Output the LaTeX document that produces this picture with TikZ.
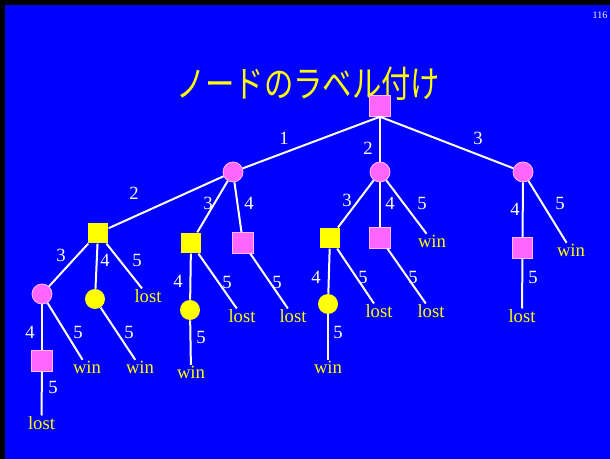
\documentclass[tikz,border=0pt]{standalone}
\usepackage{fontspec}
\setmainfont{Liberation Serif}
\newfontfamily\cjk{Noto Sans CJK JP}
\definecolor{bgblue}{HTML}{0000FF}
\definecolor{npink}{HTML}{FF66FF}
\definecolor{nyellow}{HTML}{FFFF00}
\begin{document}
\begin{tikzpicture}[x=0.75pt,y=-0.75pt,
  psq/.style={rectangle,fill=npink,draw=white!55!npink,line width=0.6pt,minimum size=15.5pt,inner sep=0pt},
  ysq/.style={rectangle,fill=nyellow,minimum size=15.5pt,inner sep=0pt},
  pci/.style={circle,fill=npink,draw=white!55!npink,line width=0.6pt,minimum size=15pt,inner sep=0pt},
  yci/.style={circle,fill=nyellow,minimum size=15pt,inner sep=0pt},
  leaf/.style={text=nyellow,font=\fontsize{14}{16}\selectfont,inner sep=0.5pt},
  lbl/.style={text=white,font=\fontsize{14}{16}\selectfont,inner sep=0pt},
  edge/.style={draw=white,line width=1.5pt}]
\fill[black] (0,0) rectangle (610,459);
\fill[bgblue] (5,5) rectangle (610,459);
\useasboundingbox (0,0) rectangle (610,459);

% title and page number
\node[text=nyellow,font=\cjk\fontsize{27.5}{30}\selectfont,inner sep=0pt] (title) at (308,84) {\scalebox{0.8}[1]{ノードのラベル付け}};
\node[text=white,font=\fontsize{7.5}{8}\selectfont,inner sep=0pt] (pg) at (600,15) {116};

% tree nodes
\node[psq] (root) at (380,106) {};
\node[pci] (A) at (233,172) {};
\node[pci] (B) at (380,172) {};
\node[pci] (C) at (523,172) {};
\node[ysq] (D) at (98,233) {};
\node[ysq] (E) at (191,243) {};
\node[psq] (F) at (243,243) {};
\node[ysq] (G) at (330,238) {};
\node[psq] (H) at (380,238) {};
\node[leaf] (wB) at (432,241) {win};
\node[psq] (I) at (522.5,248) {};
\node[leaf] (wC) at (571,250) {win};
\node[pci] (J) at (42,294) {};
\node[yci] (K) at (95,299) {};
\node[leaf] (lD) at (148,296) {lost};
\node[yci] (L) at (190,310) {};
\node[leaf] (lE) at (242,316) {lost};
\node[leaf] (lF) at (293,316) {lost};
\node[yci] (M) at (328,304) {};
\node[leaf] (lG) at (379,311) {lost};
\node[leaf] (lH) at (431,311) {lost};
\node[leaf] (lI) at (522,316) {lost};
\node[psq] (N) at (42,361) {};
\node[leaf] (wJ) at (87,367) {win};
\node[leaf] (wK) at (140,367) {win};
\node[leaf] (wL) at (191,372) {win};
\node[leaf] (wM) at (328,367) {win};
\node[leaf] (lN) at (41.5,423) {lost};

% connectors
\draw[edge] (root.south) -- (A);
\draw[edge] (root.south) -- (B);
\draw[edge] (root.south) -- (C);
\draw[edge] (A) -- (D);
\draw[edge] (A) -- (E);
\draw[edge] (A) -- (F);
\draw[edge] (B) -- (G);
\draw[edge] (B) -- (H);
\draw[edge] (B) -- (wB);
\draw[edge] (C) -- (I);
\draw[edge] (C) -- (wC);
\draw[edge] (D) -- (J);
\draw[edge] (D) -- (K);
\draw[edge] (D) -- (lD);
\draw[edge] (E) -- (L);
\draw[edge] (E) -- (lE);
\draw[edge] (F) -- (lF);
\draw[edge] (G) -- (M);
\draw[edge] (G) -- (lG);
\draw[edge] (H) -- (lH);
\draw[edge] (I) -- (lI);
\draw[edge] (J) -- (N);
\draw[edge] (J) -- (wJ);
\draw[edge] (K) -- (wK);
\draw[edge] (L) -- (wL);
\draw[edge] (M) -- (wM);
\draw[edge] (N) -- (lN);

% edge labels
\node[lbl] (r1) at (284,138) {1};
\node[lbl] (r2) at (368,148) {2};
\node[lbl] (r3) at (478,138) {3};
\node[lbl] (a2) at (134,193) {2};
\node[lbl] (a3) at (208,203) {3};
\node[lbl] (a4) at (249,203) {4};
\node[lbl] (b3) at (347,200) {3};
\node[lbl] (b4) at (390,203) {4};
\node[lbl] (b5) at (422,203) {5};
\node[lbl] (c4) at (515,209) {4};
\node[lbl] (c5) at (560,203) {5};
\node[lbl] (d3) at (61,255) {3};
\node[lbl] (d4) at (105,260) {4};
\node[lbl] (d5) at (137,260) {5};
\node[lbl] (e4) at (178,281) {4};
\node[lbl] (e5) at (227,282) {5};
\node[lbl] (f5) at (277,282) {5};
\node[lbl] (g4) at (316,277) {4};
\node[lbl] (g5) at (363,277) {5};
\node[lbl] (h5) at (413,277) {5};
\node[lbl] (i5) at (533,277) {5};
\node[lbl] (j4) at (30,332) {4};
\node[lbl] (j5) at (78,332) {5};
\node[lbl] (k5) at (129,332) {5};
\node[lbl] (l5) at (201,337) {5};
\node[lbl] (m5) at (338,332) {5};
\node[lbl] (n5) at (53,387) {5};
\end{tikzpicture}
\end{document}
